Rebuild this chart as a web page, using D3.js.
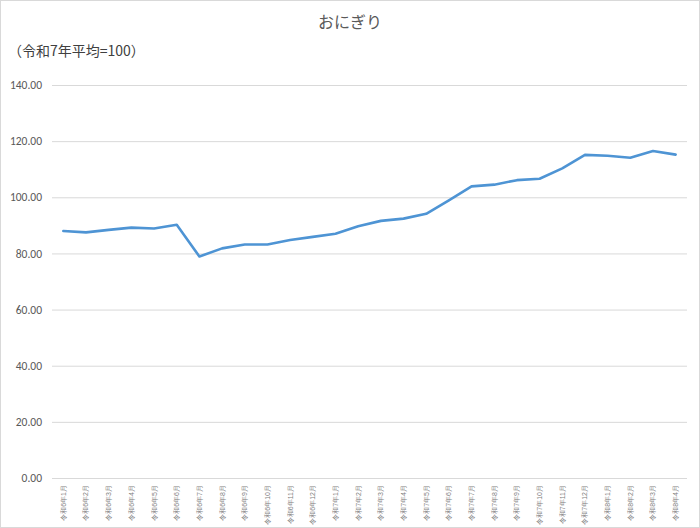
<!DOCTYPE html>
<html>
<head>
<meta charset="utf-8">
<script src="https://cdn.jsdelivr.net/npm/d3@7"></script>
<style>
  body { margin: 0; background: #fff; }
  svg { display: block; font-family: "Noto Sans CJK JP", "Noto Sans", sans-serif; }
</style>
</head>
<body>
<svg id="chart" width="700" height="528"></svg>
<script>
const title = "おにぎり"
const unitLabel = "（令和7年平均=100）"

const months = [
  "令和6年1月", "令和6年2月", "令和6年3月", "令和6年4月", "令和6年5月", "令和6年6月",
  "令和6年7月", "令和6年8月", "令和6年9月", "令和6年10月", "令和6年11月", "令和6年12月",
  "令和7年1月", "令和7年2月", "令和7年3月", "令和7年4月", "令和7年5月", "令和7年6月",
  "令和7年7月", "令和7年8月", "令和7年9月", "令和7年10月", "令和7年11月", "令和7年12月",
  "令和8年1月", "令和8年2月", "令和8年3月", "令和8年4月"
]
const values = [
  88.0, 87.5, 88.4, 89.2, 88.9, 90.2,
  78.9, 81.8, 83.2, 83.2, 84.8, 85.9,
  87.0, 89.7, 91.6, 92.4, 94.1, 98.9,
  103.9, 104.5, 106.1, 106.6, 110.3, 115.1,
  114.8, 114.1, 116.5, 115.2
]
const yTicks = [0, 20, 40, 60, 80, 100, 120, 140]

const svg = d3.select("#chart")
const width = +svg.attr("width")
const height = +svg.attr("height")
const margin = { top: 85, right: 13, bottom: 50, left: 52 }

// outer frame
svg.append("rect")
    .attr("x", 0.5).attr("y", 0.5)
    .attr("width", width - 1).attr("height", height - 1)
    .attr("fill", "#fff").attr("stroke", "#d9d9d9")

svg.append("text")
    .attr("x", width / 2).attr("y", 28)
    .attr("text-anchor", "middle")
    .attr("font-size", 16).attr("fill", "#595959")
    .text(title)

svg.append("text")
    .attr("x", 8).attr("y", 56)
    .attr("font-size", 14).attr("fill", "#404040")
    .text(unitLabel)

const x = d3.scaleBand()
    .domain(months)
    .range([margin.left, width - margin.right])

const y = d3.scaleLinear()
    .domain([0, 140])
    .range([height - margin.bottom, margin.top])

// gridlines + y labels
const yAxis = svg.append("g")
    .attr("transform", "translate(" + margin.left + ",0)")
    .call(d3.axisLeft(y)
        .tickValues(yTicks)
        .tickSize(-(width - margin.left - margin.right))
        .tickPadding(10)
        .tickFormat(d3.format(".2f")))
yAxis.select(".domain").remove()
yAxis.selectAll(".tick line").attr("stroke", "#d9d9d9").attr("stroke-width", 1)
yAxis.selectAll(".tick text")
    .attr("font-size", 11.5).attr("fill", "#595959")
    .attr("font-family", "Calibri, Carlito, 'Liberation Sans', sans-serif")

// x labels, rotated
const xAxis = svg.append("g")
    .attr("transform", "translate(0," + (height - margin.bottom) + ")")
    .call(d3.axisBottom(x).tickSize(0).tickPadding(0))
xAxis.select(".domain").remove()
xAxis.selectAll(".tick text")
    .attr("font-size", 7).attr("fill", "#808080")
    .attr("text-anchor", "end")
    .attr("dy", "0.35em")
    .attr("transform", "translate(0,7) rotate(-90)")
    .attr("x", 0).attr("y", 0)

const line = d3.line()
    .x((d, i) => x(months[i]) + x.bandwidth() / 2)
    .y(d => y(d))

svg.append("path")
    .datum(values)
    .attr("fill", "none")
    .attr("stroke", "#4e94d4")
    .attr("stroke-width", 2.6)
    .attr("stroke-linejoin", "round")
    .attr("stroke-linecap", "round")
    .attr("d", line)
</script>
</body>
</html>
